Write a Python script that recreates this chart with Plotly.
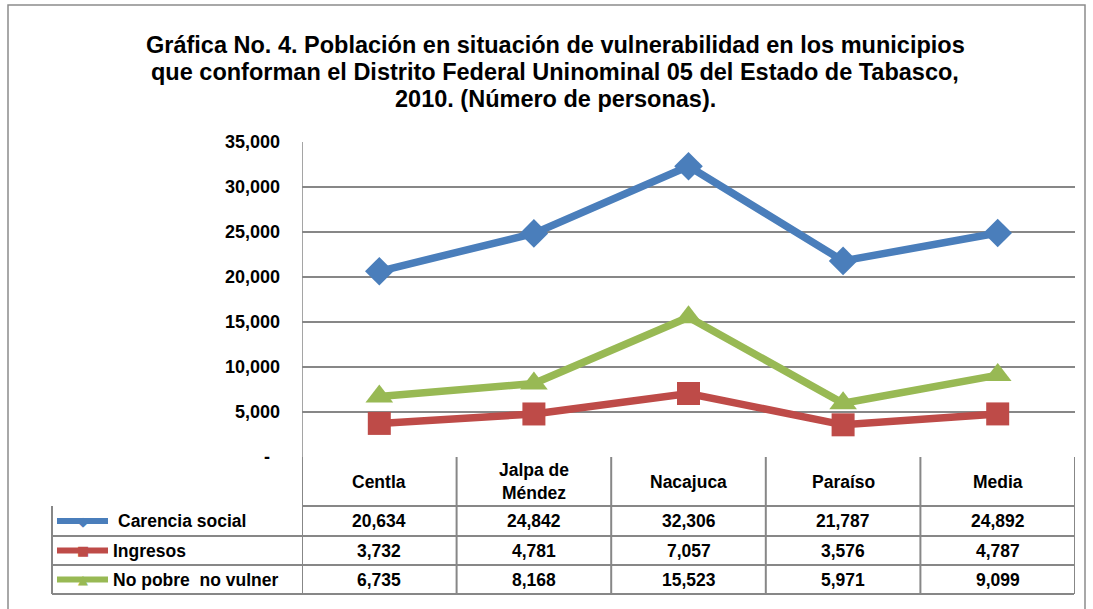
import plotly.graph_objects as go

categories = ["Centla", "Jalpa de<br>Méndez", "Nacajuca", "Paraíso", "Media"]
series_names = ["Carencia social", "Ingresos", "No pobre  no vulner"]
carencia_social = [20634, 24842, 32306, 21787, 24892]
ingresos = [3732, 4781, 7057, 3576, 4787]
no_pobre = [6735, 8168, 15523, 5971, 9099]
tick_vals = [0, 5000, 10000, 15000, 20000, 25000, 30000, 35000]
tick_text = ["-", "5,000", "10,000", "15,000", "20,000", "25,000", "30,000", "35,000"]
title_lines = ["Gráfica No. 4. Población en situación de vulnerabilidad en los municipios",
               "que conforman el Distrito Federal Uninominal 05 del Estado de Tabasco,",
               "2010. (Número de personas)."]

W, H = 1093, 609
colors = ["#4A7EBB", "#BE4B48", "#98B954"]
symbols = ["diamond", "square", "triangle-up"]
msizes = [22, 23, 24]
glyphs = ["◆", "■", "▲"]
values = [carencia_social, ingresos, no_pobre]
FONT = "Liberation Sans, Arial, sans-serif"
GRID = "#878787"
TFS = 17.5

def px_x(x):
    return x / W

def px_y(y):
    return 1 - y / H

x_idx = list(range(len(categories)))

fig = go.Figure()
for name, vals, c, s, ms in zip(series_names, values, colors, symbols, msizes):
    fig.add_trace(go.Scatter(
        x=x_idx, y=vals, mode="lines+markers", name=name,
        line=dict(color=c, width=7.5),
        marker=dict(symbol=s, size=ms, color=c),
        showlegend=False, cliponaxis=False, hoverinfo="skip",
    ))

shapes = []
annotations = []

# outer frame
shapes.append(dict(type="rect", xref="paper", yref="paper",
                   x0=px_x(8), x1=px_x(1085), y0=px_y(640), y1=px_y(5),
                   line=dict(color="#8c8c8c", width=1.5)))

# vertical axis line
shapes.append(dict(type="line", xref="x", yref="y", x0=-0.5, x1=-0.5, y0=0, y1=35000,
                   line=dict(color=GRID, width=1.5)))

# table geometry (pixel rows)
row_y = [457, 506, 536, 565, 594]
tab_left = 52
shapes.append(dict(type="line", xref="x", yref="paper", x0=-0.5, x1=len(categories) - 0.5,
                   y0=px_y(row_y[1]), y1=px_y(row_y[1]), line=dict(color=GRID, width=2)))
for ry in row_y[2:]:
    shapes.append(dict(type="line", xref="paper", yref="paper", x0=px_x(tab_left), x1=px_x(1074),
                       y0=px_y(ry), y1=px_y(ry), line=dict(color=GRID, width=2)))
shapes.append(dict(type="line", xref="paper", yref="paper", x0=px_x(tab_left), x1=px_x(tab_left),
                   y0=px_y(row_y[1]), y1=px_y(row_y[-1]), line=dict(color=GRID, width=2)))
for i in range(len(categories) + 1):
    shapes.append(dict(type="line", xref="x", yref="paper", x0=i - 0.5, x1=i - 0.5,
                       y0=px_y(row_y[0]), y1=px_y(row_y[-1]), line=dict(color=GRID, width=2)))

# header cells
for i, cat in enumerate(categories):
    annotations.append(dict(x=i, y=px_y((row_y[0] + row_y[1]) / 2), xref="x", yref="paper",
                            text="<b>" + cat + "</b>", showarrow=False,
                            font=dict(family=FONT, size=TFS, color="black"),
                            xanchor="center", yanchor="middle"))

# value rows with legend keys
for r, (name, vals, c, g) in enumerate(zip(series_names, values, colors, glyphs)):
    yc = px_y((row_y[r + 1] + row_y[r + 2]) / 2)
    for i, v in enumerate(vals):
        annotations.append(dict(x=i, y=yc, xref="x", yref="paper", text=f"<b>{v:,}</b>",
                                showarrow=False, font=dict(family=FONT, size=TFS, color="black"),
                                xanchor="center", yanchor="middle"))
    shapes.append(dict(type="line", xref="paper", yref="paper", x0=px_x(57), x1=px_x(108),
                       y0=yc, y1=yc, line=dict(color=c, width=6)))
    annotations.append(dict(x=px_x(83), y=yc, xref="paper", yref="paper", text=g, showarrow=False,
                            font=dict(family="DejaVu Sans", size=13, color=c),
                            xanchor="center", yanchor="middle"))
    lx = 116 if r == 0 else 111
    annotations.append(dict(x=px_x(lx), y=yc, xref="paper", yref="paper", text=f"<b>{name}</b>",
                            showarrow=False, font=dict(family=FONT, size=TFS, color="black"),
                            xanchor="left", yanchor="middle"))

# title lines
for k, line in enumerate(title_lines):
    annotations.append(dict(x=px_x(555), y=px_y(45 + 27 * k), xref="paper", yref="paper",
                            text="<b>" + line + "</b>", showarrow=False,
                            font=dict(family=FONT, size=23.5, color="black"),
                            xanchor="center", yanchor="middle"))

# accounting-style padding for the dash at zero
tick_labels = [f"<b>{t}</b>" + ("\u00a0\u00a0" if t == "-" else "") for t in tick_text]

fig.update_layout(
    width=W, height=H, autosize=False,
    margin=dict(l=0, r=0, t=0, b=0, autoexpand=False),
    paper_bgcolor="white", plot_bgcolor="white",
    shapes=shapes, annotations=annotations, hovermode=False,
    xaxis=dict(domain=[px_x(302), px_x(1075)], range=[-0.5, len(categories) - 0.5],
               showticklabels=False, showgrid=False, zeroline=False, showline=False, fixedrange=True,
               automargin=False),
    yaxis=dict(domain=[px_y(457), px_y(142)], range=[0, 35000], tickvals=tick_vals,
               ticktext=tick_labels,
               showgrid=True, gridcolor=GRID, gridwidth=1.5, zeroline=False, showline=False,
               tickfont=dict(family=FONT, size=18, color="black"), ticks="", ticklabelstandoff=21,
               fixedrange=True, automargin=False),
)

fig.write_html(
    "out.html",
    config={"displayModeBar": False, "responsive": False},
    post_script=("document.documentElement.style.margin='0';document.body.style.margin='0';"
                 "document.body.style.overflow='hidden';"),
)
